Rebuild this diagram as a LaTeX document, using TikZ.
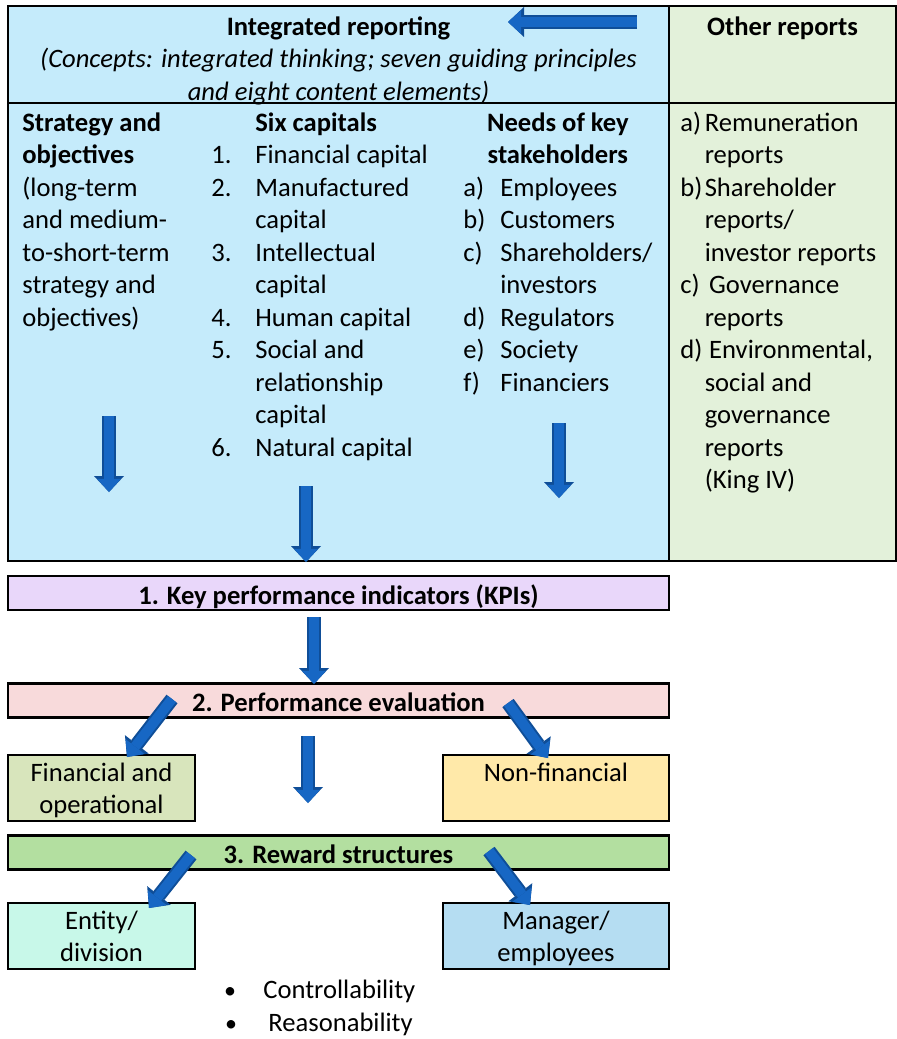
\documentclass[tikz,border=0pt]{standalone}
\usepackage{fontspec}
\setmainfont{Carlito}
\usetikzlibrary{arrows.meta}

\definecolor{irblue}{HTML}{C5EBFB}
\definecolor{reportgreen}{HTML}{E3F1DA}
\definecolor{kpipurple}{HTML}{E9D7FA}
\definecolor{evalpink}{HTML}{F8DADB}
\definecolor{finolive}{HTML}{D8E5BC}
\definecolor{nonfinyellow}{HTML}{FFE9A9}
\definecolor{rewardgreen}{HTML}{B3DFA0}
\definecolor{entitymint}{HTML}{C8F8E9}
\definecolor{managerblue}{HTML}{B5DDF2}
\definecolor{arrowfill}{HTML}{1767C4}
\definecolor{arrowedge}{HTML}{0F4E98}

\newcommand{\txtsize}{\fontsize{13.3}{16.25}\selectfont}

\tikzset{
  panel/.style={draw=black, line width=1.4pt},
  stagebox/.style={draw=black, line width=1.2pt, inner sep=0pt, minimum width=330.5pt,
    minimum height=17pt, text height=11pt, text depth=0pt, font=\txtsize\bfseries},
  sidebox/.style={draw=black, line width=1.2pt, inner sep=0pt, minimum width=#1,
    minimum height=33pt, text height=12.9pt, text depth=19.6pt},
  colblock/.style={anchor=north west, inner sep=0pt},
  blockarrow/.style={draw=arrowfill, line width=5pt,
    -{Triangle[length=6.6pt,width=12pt,line width=0pt]},
    preaction={draw=arrowedge, line width=7pt,
      -{Triangle[length=8pt,width=15pt,line width=0pt]}}}
}

\begin{document}
\begin{tikzpicture}[x=0.5pt, y=-0.5pt, font=\txtsize]
    \useasboundingbox (0,0) rectangle (897,1039);

    % integrated reporting and other reports
    \draw[panel, fill=irblue] (8,6) rectangle (669,561);
    \draw[panel, fill=reportgreen] (669,6) rectangle (896,561);
    \draw[panel] (8,103) -- (896,103);

    \node[anchor=north, inner sep=0pt] (irtitle) at (338.5,12.25) {\begin{tabular}{@{}c@{}}
        \textbf{Integrated reporting}\\
        \textit{(Concepts: integrated thinking; seven guiding principles}\\
        \textit{and eight content elements)}\end{tabular}};
    \node[anchor=north, inner sep=0pt] (othertitle) at (782.5,12.25) {\begin{tabular}{@{}c@{}}
        \textbf{Other reports}\end{tabular}};

    \node[colblock] (strategy) at (22,108.25) {\begin{tabular}{@{}l@{}}
        \textbf{Strategy and}\\ \textbf{objectives}\\ (long-term\\ and medium-\\
        to-short-term\\ strategy and\\ objectives)\end{tabular}};

    \node[colblock] (capitals) at (211,108.25) {\begin{tabular}{@{}p{22pt}@{}l@{}}
        & \textbf{Six capitals}\\
        1. & Financial capital\\
        2. & Manufactured\\ & capital\\
        3. & Intellectual\\ & capital\\
        4. & Human capital\\
        5. & Social and\\ & relationship\\ & capital\\
        6. & Natural capital\end{tabular}};

    \node[colblock] (needs) at (463,108.25) {\begin{tabular}{@{}p{18.5pt}@{}l@{}}
        \multicolumn{2}{@{}c@{}}{\textbf{Needs of key}}\\
        \multicolumn{2}{@{}c@{}}{\textbf{stakeholders}}\\
        a) & Employees\\
        b) & Customers\\
        c) & Shareholders/\\ & investors\\
        d) & Regulators\\
        e) & Society\\
        f) & Financiers\end{tabular}};

    \node[colblock] (otherlist) at (680,108.25) {\begin{tabular}{@{}p{12.2pt}@{}l@{}}
        a) & Remuneration\\ & reports\\
        b) & Shareholder\\ & reports/\\ & investor reports\\
        c) & \,Governance\\ & reports\\
        d) & \,Environmental,\\ & social and\\ & governance\\ & reports\\ & (King IV)\end{tabular}};

    % stages
    \node[stagebox, fill=kpipurple] (kpi) at (338.5,593) {1. Key performance indicators (KPIs)};
    \node[stagebox, fill=evalpink] (evaluation) at (338.5,700.5) {2. Performance evaluation};
    \node[sidebox=93.5pt, fill=finolive] (financial) at (101.5,788) {\begin{tabular}[t]{@{}c@{}}
        Financial and\\ operational\end{tabular}};
    \node[sidebox=113pt, fill=nonfinyellow] (nonfinancial) at (556,788) {Non-financial};
    \node[stagebox, fill=rewardgreen] (reward) at (338.5,852.5) {3. Reward structures};
    \node[sidebox=93.5pt, fill=entitymint] (entity) at (101.5,936) {\begin{tabular}[t]{@{}c@{}}
        Entity/\\ division\end{tabular}};
    \node[sidebox=113pt, fill=managerblue] (manager) at (556,936) {\begin{tabular}[t]{@{}c@{}}
        Manager/\\ employees\end{tabular}};

    \node[anchor=base, inner sep=0pt] (bulletone) at (230,998) {\large\textbullet};
    \node[anchor=base west, inner sep=0pt] (controllability) at (263,998) {Controllability};
    \node[anchor=base, inner sep=0pt] (bullettwo) at (231,1031) {\large\textbullet};
    \node[anchor=base west, inner sep=0pt] (reasonability) at (268,1031) {Reasonability};

    % arrows
    \coordinate (otherfrom) at (637,22);   \coordinate (otherto) at (508,22);
    \coordinate (stratfrom) at (109,416);  \coordinate (stratto) at (109,492);
    \coordinate (capfrom) at (306,486);    \coordinate (capto) at (306,562);
    \coordinate (needsfrom) at (559,423);  \coordinate (needsto) at (559,498);
    \coordinate (kpifrom) at (314,617);    \coordinate (kpito) at (314,684);
    \coordinate (finfrom) at (172,699);    \coordinate (finto) at (127,757);
    \coordinate (midfrom) at (308,736);    \coordinate (midto) at (308,803);
    \coordinate (nonfinfrom) at (508,703); \coordinate (nonfinto) at (548,758);
    \coordinate (entfrom) at (191,855);    \coordinate (entto) at (149,908);
    \coordinate (manfrom) at (489,851);    \coordinate (manto) at (530,905);

    \draw[blockarrow] (otherfrom) -- (otherto);
    \draw[blockarrow] (stratfrom) -- (stratto);
    \draw[blockarrow] (capfrom) -- (capto);
    \draw[blockarrow] (needsfrom) -- (needsto);
    \draw[blockarrow] (kpifrom) -- (kpito);
    \draw[blockarrow] (finfrom) -- (finto);
    \draw[blockarrow] (midfrom) -- (midto);
    \draw[blockarrow] (nonfinfrom) -- (nonfinto);
    \draw[blockarrow] (entfrom) -- (entto);
    \draw[blockarrow] (manfrom) -- (manto);
\end{tikzpicture}
\end{document}
